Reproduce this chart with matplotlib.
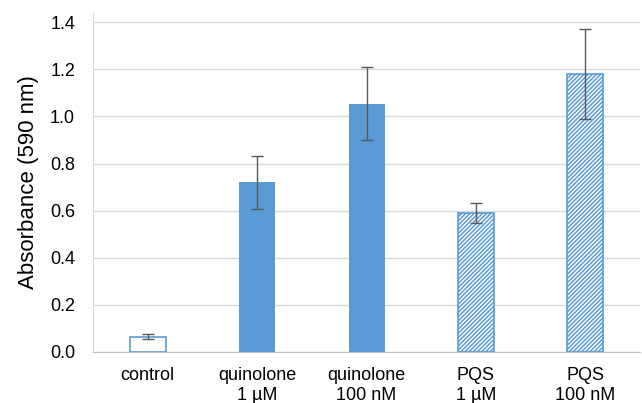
import matplotlib.pyplot as plt
import numpy as np

# data
labels = ["control", "quinolone\n1 µM", "quinolone\n100 nM", "PQS\n1 µM", "PQS\n100 nM"]
values = [0.065, 0.72, 1.055, 0.59, 1.18]
errors = [0.012, 0.112, 0.155, 0.043, 0.19]
styles = ["open", "solid", "solid", "hatch", "hatch"]

blue = "#5B9BD5"
plt.rcParams['font.family'] = ['Liberation Sans', 'DejaVu Sans']
plt.rcParams['hatch.linewidth'] = 1.1

fig = plt.figure(figsize=(6.42, 4.03), dpi=100)
ax = fig.add_axes([0.145, 0.127, 0.852, 0.841])

x = np.arange(len(labels))
for i in range(len(labels)):
    if styles[i] == "solid":
        ax.bar(x[i], values[i], width=0.33, color=blue, zorder=3)
    elif styles[i] == "open":
        ax.bar(x[i], values[i], width=0.33, facecolor="white", edgecolor=blue, linewidth=1.2, zorder=3)
    else:
        ax.bar(x[i], values[i], width=0.33, facecolor="white", edgecolor=blue, hatch="////////", linewidth=1.2, zorder=3)

ax.errorbar(x, values, yerr=errors, fmt="none", ecolor="#595959", elinewidth=1, capsize=4, capthick=1, zorder=4)

ax.set_xlim(-0.5, len(labels) - 0.5)
ax.set_ylim(0, 1.44)
ax.set_yticks(np.arange(0, 1.41, 0.2))
ax.set_yticklabels([f"{v:.1f}" for v in np.arange(0, 1.41, 0.2)])
ax.set_xticks(x)
ax.set_xticklabels(labels)
ax.tick_params(axis="both", length=0, labelsize=13)
ax.tick_params(axis="x", pad=11)
ax.tick_params(axis="y", pad=13)
ax.set_ylabel("Absorbance (590 nm)", fontsize=16, labelpad=8)

ax.grid(axis="y", color="#d9d9d9", linewidth=1, zorder=0)
for s in ["top", "right"]:
    ax.spines[s].set_visible(False)
ax.spines["left"].set_color("#d9d9d9")
ax.spines["bottom"].set_color("#bfbfbf")

fig.savefig("out.png", dpi=100)
